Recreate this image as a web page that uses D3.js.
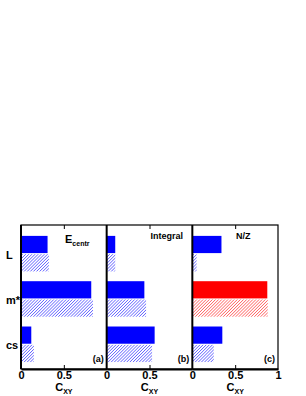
<!DOCTYPE html>
<html>
<head>
<meta charset="utf-8">
<style>
  body { margin: 0; background: #fff; }
  svg text { font-family: "Liberation Sans", Arial, Helvetica, sans-serif; font-weight: bold; }
</style>
</head>
<body>
<svg width="306" height="396"></svg>
<script src="https://d3js.org/d3.v7.min.js"></script>
<script>

var categories = ["L", "m*", "cs"];
var panelTitles = ["E", "Integral", "N/Z"];
var panelTags = ["(a)", "(b)", "(c)"];
var tickValues = [0, 0.5, 1];

// solid = full bars, hatched = second (lighter) bars
var solidA = [0.31, 0.82, 0.12],
    hatchA = [0.325, 0.84, 0.15];
var solidB = [0.10, 0.44, 0.56],
    hatchB = [0.10, 0.46, 0.53];
var solidC = [0.34, 0.875, 0.35],
    hatchC = [0.05, 0.88, 0.25];

var solids = [solidA, solidB, solidC],
    hatches = [hatchA, hatchB, hatchC];
var highlight = {panel: 2, category: "m*"};

var svg = d3.select("svg");

var fLeft = 21, fRight = 278, fTop = 225, fBottom = 369;
var panelW = (fRight - fLeft) / 3;

var defs = svg.append("defs");
function hatchPattern(id, color) {
  var p = defs.append("pattern")
      .attr("id", id)
      .attr("patternUnits", "userSpaceOnUse")
      .attr("width", 2.2)
      .attr("height", 2.2)
      .attr("patternTransform", "rotate(45)");
  p.append("line")
      .attr("x1", 0).attr("y1", 0)
      .attr("x2", 0).attr("y2", 2.2)
      .attr("stroke", color)
      .attr("stroke-width", 0.9);
}
hatchPattern("hatch-blue", "#0000ff");
hatchPattern("hatch-red", "#ff0000");

var y = d3.scaleBand()
    .domain(categories)
    .range([fTop, fBottom])
    .paddingInner(0.216)
    .paddingOuter(0.197)
    .align(0.61);

var sub = d3.scaleBand()
    .domain(["solid", "hatch"])
    .range([0, y.bandwidth()])
    .paddingInner(0.06);

// frame
svg.append("rect")
    .attr("x", fLeft).attr("y", fTop)
    .attr("width", fRight - fLeft).attr("height", fBottom - fTop)
    .attr("fill", "none")
    .attr("stroke", "#000")
    .attr("stroke-width", 1.2);

d3.range(3).forEach(function(i) {
  var x0 = fLeft + i * panelW;
  var x = d3.scaleLinear().domain([0, 1]).range([x0, x0 + panelW]);
  var g = svg.append("g");

  var bars = g.selectAll(".pair")
    .data(categories)
    .enter().append("g")
      .attr("transform", function(d) { return "translate(0," + y(d) + ")"; });

  bars.append("rect")
      .attr("x", x(0))
      .attr("y", sub("solid"))
      .attr("height", sub.bandwidth())
      .attr("width", function(d, j) { return x(solids[i][j]) - x(0); })
      .attr("fill", function(d) { return (i === highlight.panel && d === highlight.category) ? "#ff0000" : "#0000ff"; });

  bars.append("rect")
      .attr("x", x(0))
      .attr("y", sub("hatch"))
      .attr("height", sub.bandwidth())
      .attr("width", function(d, j) { return x(hatches[i][j]) - x(0); })
      .attr("fill", function(d) { return (i === highlight.panel && d === highlight.category) ? "url(#hatch-red)" : "url(#hatch-blue)"; });

  // bottom axis
  var ax = g.append("g")
      .attr("transform", "translate(0," + fBottom + ")")
      .call(d3.axisBottom(x).tickValues(tickValues).tickSizeInner(-4).tickSizeOuter(0).tickPadding(0)
        .tickFormat(function(d) { return (d === 1 && i < 2) ? "" : d3.format("")(d); }));
  ax.select(".domain").attr("stroke-width", 2);
  ax.selectAll("text").attr("font-size", 11).attr("y", 9.5).attr("dy", 0)
      .attr("font-family", "Liberation Sans, Arial, sans-serif").attr("font-weight", "bold");
  ax.selectAll(".tick").filter(function(d) { return d !== 0.5; }).select("line").remove();

  // top ticks
  var at = g.append("g")
      .attr("transform", "translate(0," + fTop + ")")
      .call(d3.axisTop(x).tickValues([0.5]).tickSizeInner(-4).tickSizeOuter(0).tickFormat(""));
  at.select(".domain").remove();

  // vertical axis line
  g.append("line")
      .attr("x1", x(0)).attr("x2", x(0))
      .attr("y1", fTop).attr("y2", fBottom)
      .attr("stroke", "#000").attr("stroke-width", 2);

  // x label C_XY
  var xl = g.append("text")
      .attr("x", x(0.5))
      .attr("y", 390.5)
      .attr("text-anchor", "middle")
      .attr("font-size", 11);
  xl.append("tspan").text("C");
  xl.append("tspan").attr("font-size", 7).attr("dy", 3).text("XY");

  // panel tag
  g.append("text")
      .attr("x", x(1) - 3)
      .attr("y", 361.5)
      .attr("text-anchor", "end")
      .attr("font-size", 9)
      .text(panelTags[i]);
});

// panel titles
var t0 = svg.append("text").attr("x", 65).attr("y", 242.7).attr("font-size", 11);
t0.append("tspan").text("E");
t0.append("tspan").attr("font-size", 7).attr("dy", 3).text("centr");

svg.append("text").attr("x", 183).attr("y", 238.5).attr("font-size", 9)
    .attr("text-anchor", "end").text(panelTitles[1]);
svg.append("text").attr("x", 236).attr("y", 239.3).attr("font-size", 9)
    .text(panelTitles[2]);

// category labels
svg.append("g").selectAll("text")
  .data(categories)
  .enter().append("text")
    .attr("x", 6)
    .attr("y", function(d) { return y(d) + y.bandwidth() / 2 + 5; })
    .attr("font-size", 11)
    .text(function(d) { return d; });

</script>
</body>
</html>
